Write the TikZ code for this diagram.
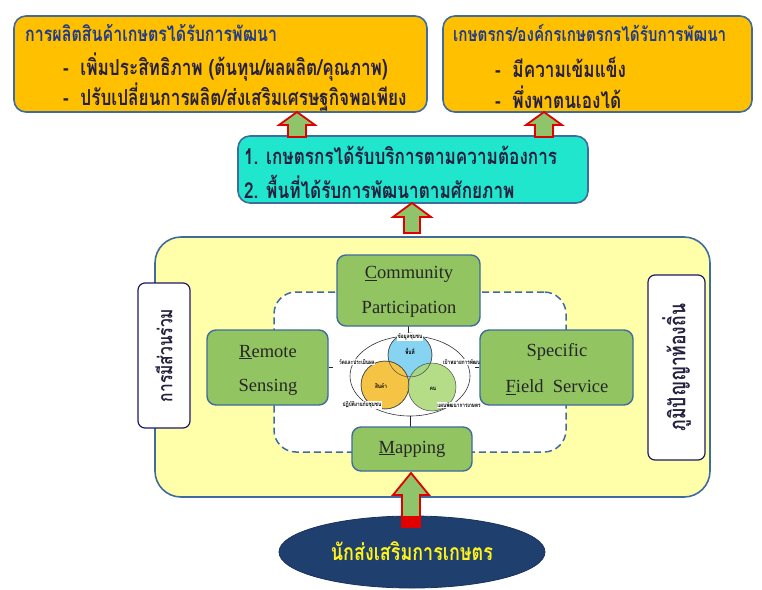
\documentclass[tikz,border=0pt]{standalone}
\usepackage{fontspec}
\setmainfont{Liberation Serif}
\newfontfamily\thai[Script=Thai,FakeStretch=0.78]{Loma}
\usetikzlibrary{calc,shapes.geometric}
\definecolor{gold}{HTML}{FFC000}
\definecolor{boxedge}{HTML}{3F6B9E}
\definecolor{navy}{HTML}{1F3A8A}
\definecolor{darktxt}{HTML}{262040}
\definecolor{cyanbox}{HTML}{1FE6CC}
\definecolor{paleyellow}{HTML}{FFFFAA}
\definecolor{greenbox}{HTML}{92C462}
\definecolor{vblue}{HTML}{86D3F2}
\definecolor{vorange}{HTML}{F5C444}
\definecolor{vgreen}{HTML}{A9D874}
\definecolor{ellblue}{HTML}{1F3F6E}
\definecolor{arrgreen}{HTML}{8FC46A}
\definecolor{arrred}{HTML}{E00000}
\newcommand\blkarrow[6]{% cx, ytop, ybase, ybot, halfhead, halfshaft
  \draw[arrowstyle] (#1,#2) -- (#1+#5,#3) -- (#1+#6,#3) -- (#1+#6,#4) -- (#1-#6,#4) -- (#1-#6,#3) -- (#1-#5,#3) -- cycle;}
\begin{document}
\begin{tikzpicture}[x=1pt,y=-1pt,
  topbox/.style={draw=boxedge,line width=1.6pt,fill=gold,rounded corners=12pt,inner sep=0pt},
  midbox/.style={draw=boxedge,line width=1.6pt,fill=cyanbox,rounded corners=12pt,inner sep=0pt},
  greenb/.style={draw=boxedge,line width=1.4pt,fill=greenbox,rounded corners=9pt,inner sep=0pt},
  sidebox/.style={draw=darktxt!80!blue,line width=1.2pt,fill=white,rounded corners=7pt,inner sep=0pt},
  ttitle/.style={anchor=west,inner sep=0pt,text=navy,font=\thai\bfseries\fontsize{20.5}{22}\selectfont},
  tbullet/.style={anchor=west,inner sep=0pt,text=darktxt,font=\thai\bfseries\fontsize{22}{23}\selectfont},
  tmid/.style={anchor=west,inner sep=0pt,text=darktxt,font=\thai\bfseries\fontsize{22}{23}\selectfont},
  engl/.style={inner sep=0pt,text=black!85,font=\fontsize{18.5}{19}\selectfont},
  tiny/.style={inner sep=0.6pt,fill=white,text=black,font=\thai\bfseries\fontsize{6}{7}\selectfont},
  arrowstyle/.style={draw=arrred,fill=arrgreen,line width=1.8pt,line join=miter}
]
\useasboundingbox[fill=white] (0,0) rectangle (762,589);

% top boxes
\node[topbox,minimum width=413pt,minimum height=96pt] (tl) at (220.5,64) {};
\node[topbox,minimum width=309pt,minimum height=96pt] (tr) at (597.5,64) {};
\node[ttitle] (tlt) at (25,33) {การผลิตสินค้าเกษตรได้รับการพัฒนา};
\node[tbullet] (tlb1) at (63,67) {-\ \ เพิ่มประสิทธิภาพ (ต้นทุน/ผลผลิต/คุณภาพ)};
\node[tbullet] (tlb2) at (63,97) {-\ \ ปรับเปลี่ยนการผลิต/ส่งเสริมเศรษฐกิจพอเพียง};
\node[ttitle,font=\thai\bfseries\fontsize{19.5}{21}\selectfont] (trt) at (453,33) {เกษตรกร/องค์กรเกษตรกรได้รับการพัฒนา};
\node[tbullet] (trb1) at (495,67) {-\ \ มีความเข้มแข็ง};
\node[tbullet] (trb2) at (495,97) {-\ \ พึ่งพาตนเองได้};

% middle box
\node[midbox,minimum width=350pt,minimum height=67pt] (mid) at (413,169.5) {};
\node[tmid] (m1) at (244,155) {1. เกษตรกรได้รับบริการตามความต้องการ};
\node[tmid] (m2) at (244,187) {2. พื้นที่ได้รับการพัฒนาตามศักยภาพ};

% arrows to top
\blkarrow{297}{112}{125}{137}{18}{9}
\blkarrow{544}{112}{125}{137}{18}{9}
\blkarrow{412}{203}{217}{233}{19}{8}

% big yellow area
\node[draw=boxedge,line width=1.6pt,fill=paleyellow,rounded corners=26pt,minimum width=555pt,minimum height=260pt,inner sep=0pt] (yel) at (432.5,367) {};
\node[sidebox,minimum width=52pt,minimum height=145pt] (lside) at (164,355.5) {};
\node[rotate=90,inner sep=0pt,text=darktxt,font=\thai\bfseries\fontsize{20}{21}\selectfont] (ltxt) at (lside.center) {การมีส่วนร่วม};
\node[sidebox,minimum width=57pt,minimum height=185pt] (rside) at (676.5,367.5) {};
\node[rotate=90,inner sep=0pt,text=darktxt,font=\thai\bfseries\fontsize{22.5}{24}\selectfont] (rtxt) at (rside.center) {ภูมิปัญญาท้องถิ่น};

% dashed frame
\node[draw=boxedge,line width=1.5pt,dash pattern=on 7pt off 4pt,fill=white,rounded corners=22pt,minimum width=292pt,minimum height=160pt,inner sep=0pt] (dash) at (420,372) {};

% venn diagram
\draw[black!80,line width=0.6pt] (410,376) ellipse (60pt and 40pt);
\draw[darktxt,line width=1pt] (408,326) -- (408,333);
\draw[darktxt,line width=1pt] (410,416) -- (410,428);
\fill[vblue,draw=black!70,line width=0.5pt] (410,355) circle (22pt);
\fill[vorange,draw=black!70,line width=0.5pt] (385,385) circle (24pt);
\fill[vgreen,draw=black!70,line width=0.5pt,fill opacity=0.85] (432,387) circle (24pt);
\draw[black!70,line width=0.5pt] (410,355) circle (22pt);
\draw[black!70,line width=0.5pt] (385,385) circle (24pt);
\node[tiny,fill=none] (v1) at (410,351) {พื้นที่};
\node[tiny,fill=none] (v2) at (381,386) {สินค้า};
\node[tiny,fill=none] (v3) at (433,389) {คน};
\node[tiny] (lt) at (410,337) {ข้อมูลชุมชน};
\node[tiny] (ll) at (357,362) {วัดและประเมินผล};
\node[tiny] (lr) at (463,362) {เป้าหมายการพัฒนา};
\node[tiny] (lbl) at (362,405) {ปฏิบัติงานกับชุมชน};
\node[tiny] (lbr) at (459,405) {แผนพัฒนาการเกษตร};

% green boxes
\node[greenb,minimum width=143pt,minimum height=71pt] (comm) at (408.5,290.5) {};
\node[engl] (c1) at (409,274) {\underline{C}ommunity};
\node[engl] (c2) at (409,309) {Participation};
\node[greenb,minimum width=121pt,minimum height=75pt] (rem) at (267.5,367.5) {};
\node[engl] (r1) at (268,352) {\underline{R}emote};
\node[engl] (r2) at (268,387) {Sensing};
\node[greenb,minimum width=153pt,minimum height=75pt] (spec) at (556.5,367.5) {};
\node[engl] (s1) at (557,352) {Specific};
\node[engl] (s2) at (557,387) {\underline{F}ield\ \ Service};
\node[greenb,minimum width=120pt,minimum height=44pt] (map) at (412,449) {};
\node[engl] (mp) at (412,449) {\underline{M}apping};
\draw[darktxt,line width=1.2pt] (rem.east) -- ++(4,0);
\draw[darktxt,line width=1.2pt] (spec.west) -- ++(-4,0);

% bottom ellipse
\node[ellipse,fill=ellblue,draw=ellblue!80!black,line width=0.8pt,minimum width=266pt,minimum height=72pt,inner sep=0pt] (ext) at (412,552) {};
\node[inner sep=0pt,text=yellow!90!white,font=\thai\bfseries\fontsize{23}{24}\selectfont] (extt) at (412,551) {นักส่งเสริมการเกษตร};
\blkarrow{411}{473}{495}{527}{18}{9}
\fill[arrred] (402,516) rectangle (420,527);
\end{tikzpicture}
\end{document}
